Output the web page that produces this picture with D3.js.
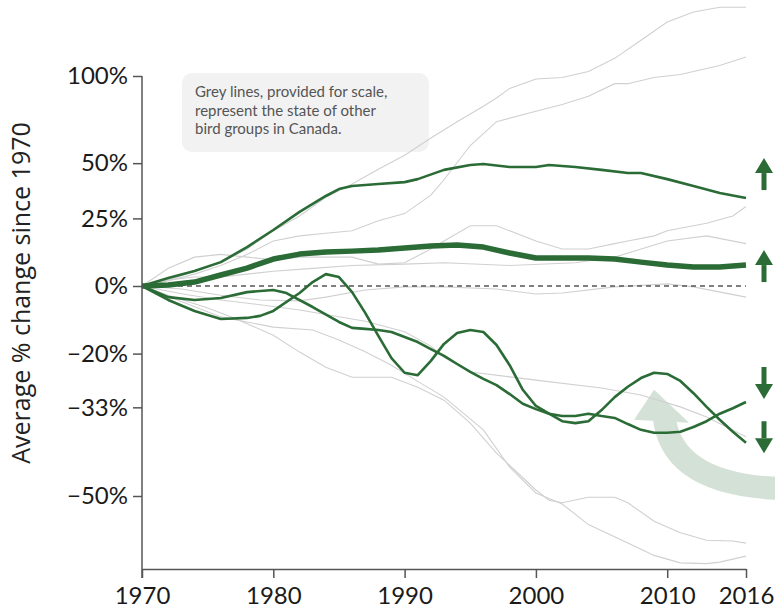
<!DOCTYPE html>
<html>
<head>
<meta charset="utf-8">
<script src="https://cdn.jsdelivr.net/npm/d3@7"></script>
<style>
  body { margin: 0; background: #fff; }
  svg { display: block; font-family: Lato, "Open Sans", sans-serif; }
</style>
</head>
<body>
<div id="chart"></div>
<script>
// Chart size
const width = 775,
    height = 611;

// Plot box (pixels)
const plotLeft = 142,
    plotRight = 746,
    plotTop = 76,
    plotBottom = 569;

// Axis ticks
const xTicks = [1970, 1980, 1990, 2000, 2010, 2016];
const yTickValues = [100, 50, 25, 0, -20, -33, -50];
const yTickLabels = ["100%", "50%", "25%", "0%", "\u221220%", "\u221233%", "\u221250%"];

// Green series: [year, % change since 1970]
const greenTop = [[1970,0],[1972,2.7],[1974,5.1],[1976,8.2],[1978,13.7],[1980,20.3],[1982,27.7],[1984,34.6],[1985,37.7],[1986,39.1],[1988,40],[1990,40.9],[1991,42.3],[1993,46.7],[1995,49.1],[1996,49.6],[1998,48.1],[2000,48.1],[2001,49.1],[2003,48.1],[2005,46.7],[2007,45.2],[2008,45.2],[2010,42.3],[2012,39.1],[2014,35.9],[2016,33.7]];
const greenThick = [[1970,0],[1972,0.3],[1974,1.3],[1976,3.7],[1978,6.1],[1980,9.3],[1982,11.1],[1984,11.9],[1986,12.2],[1988,12.6],[1990,13.4],[1992,14.1],[1994,14.5],[1996,13.7],[1998,11.5],[2000,9.7],[2002,9.7],[2004,9.7],[2006,9.3],[2008,8.2],[2010,7.2],[2012,6.5],[2014,6.5],[2016,7.2]];
const greenSteady = [[1970,0],[1972,-3.6],[1974,-4.5],[1976,-3.9],[1978,-2.0],[1980,-1.3],[1981,-2.3],[1983,-6.7],[1985,-11.2],[1986,-12.9],[1987,-13.2],[1988,-13.5],[1989,-14.1],[1990,-15.5],[1991,-16.9],[1992,-18.8],[1993,-20.6],[1994,-22.7],[1995,-24.7],[1996,-26.4],[1997,-27.9],[1998,-30],[1999,-32.2],[2000,-33.4],[2001,-34.4],[2002,-34.9],[2003,-34.9],[2004,-34.4],[2005,-34.9],[2006,-35.3],[2007,-36.6],[2008,-37.8],[2009,-38.4],[2010,-38.4],[2011,-38.2],[2012,-37.2],[2013,-36],[2014,-34.4],[2015,-33.2],[2016,-31.8]];
const greenWavy = [[1970,0],[1972,-4.5],[1974,-7.9],[1976,-10.3],[1978,-10],[1979,-9.4],[1980,-7.9],[1982,-2.3],[1983,1.3],[1984,4],[1985,3],[1986,-2],[1987,-8.5],[1988,-15.2],[1989,-21.2],[1990,-24.9],[1991,-25.5],[1992,-21.9],[1993,-17.4],[1994,-14.4],[1995,-13.5],[1996,-14.1],[1997,-17.7],[1998,-23],[1999,-29],[2000,-32.7],[2001,-34.4],[2002,-36],[2003,-36.4],[2004,-36],[2005,-33.6],[2006,-30.7],[2007,-28.3],[2008,-26.2],[2009,-24.9],[2010,-25.2],[2011,-26.9],[2012,-29.8],[2013,-32.9],[2014,-35.7],[2015,-38.2],[2016,-40.4]];

// Grey series (other bird groups)
const grey1 = [[1970,0],[1972,2],[1974,5],[1976,8],[1978,13],[1980,20],[1982,26],[1984,34],[1986,40],[1988,47],[1990,54],[1992,63],[1994,72],[1996,81],[1997,86],[1998,92],[2000,98],[2002,99],[2004,103],[2006,112],[2008,125],[2010,139],[2012,147],[2014,151],[2016,151]];
const grey2 = [[1970,0],[1972,1.7],[1974,4],[1976,7],[1978,11],[1980,16],[1982,18],[1984,19],[1986,20],[1988,24],[1990,27],[1992,35],[1993,42],[1995,59],[1997,72],[2000,78],[2002,82],[2004,87],[2006,95],[2007,95],[2009,99],[2011,101],[2013,105],[2014,107],[2016,113]];
const grey3 = [[1970,0],[1972,6],[1974,10],[1976,11],[1978,10],[1980,9],[1982,10],[1984,10],[1986,10],[1988,7.5],[1990,8],[1992,13],[1993,16],[1995,22],[1997,22],[2000,16],[2002,13],[2004,13],[2006,15],[2007,16],[2009,18],[2010,20],[2013,23],[2015,26],[2016,30]];
const grey4 = [[1970,0],[1972,2],[1974,3],[1976,3],[1978,4],[1980,5],[1983,6],[1986,7],[1990,7.5],[1993,8],[1998,7],[2003,8],[2006,10],[2010,16],[2013,18],[2016,15]];
const grey5 = [[1970,0],[1973,-1],[1976,-3],[1979,-4.5],[1982,-4.8],[1984,-3.6],[1987,-1.3],[1990,-0.3],[1993,-0.3],[1997,-1],[2000,-2.6],[2002,-2.3],[2006,-0.3],[2010,0.7],[2012,-0.3],[2016,-3.6]];
const grey6 = [[1970,0],[1973,-2.5],[1976,-4.5],[1979,-6],[1982,-7.6],[1984,-9],[1987,-11],[1990,-14],[1992,-18],[1993,-21],[1995,-24.7],[2000,-26.7],[2005,-28.6],[2008,-30.2],[2011,-32.9],[2013,-35.1],[2016,-39.2]];
const grey7 = [[1970,0],[1972,-3],[1975,-7],[1977,-10],[1980,-15],[1982,-19.6],[1984,-23.5],[1986,-26],[1989,-26],[1991,-28.4],[1993,-31.4],[1995,-36.4],[1997,-42.4],[2000,-49],[2001,-50.7],[2002,-51.1],[2004,-50.2],[2006,-50.2],[2007,-51.1],[2009,-54],[2011,-55.7],[2013,-56.8],[2015,-56.9],[2016,-57.2]];
const grey8 = [[1970,0],[1973,-5],[1976,-9.7],[1980,-12.7],[1983,-13.5],[1985,-16.3],[1987,-19.5],[1989,-23],[1991,-27],[1993,-30.7],[1996,-37.8],[1998,-45],[2000,-49.5],[2002,-51.3],[2004,-54.5],[2007,-57.2],[2009,-58.9],[2011,-59.9],[2013,-60],[2014,-59.8],[2016,-59]];

// Trend arrows at the right: value where each arrow is centred, and direction
const arrowValues = [44.7, 6.8, -27.4, -39.3];
const arrowDirs = ["up", "up", "down", "down"];

// Big pale arrow pointing at the recent peak: tip at [year, %]
const bigArrowTip = [2009, -29];

const noteLines = ["Grey lines, provided for scale,", "represent the state of other", "bird groups in Canada."];

const green = "#2a6b36";

const svg = d3.select("#chart")
    .append("svg")
    .attr("width", width)
    .attr("height", height);

// Scales: y is a log scale of the ratio to 1970
const x = d3.scaleLinear()
    .domain([1970, 2016])
    .range([plotLeft, plotRight]);

const y = d3.scaleLog()
    .domain([0.5, 2])
    .range([496, plotTop]);

const ratio = p => 1 + p / 100;

const line = d3.line()
    .x(d => x(d[0]))
    .y(d => y(ratio(d[1])));

// Big pale arrow (drawn first so everything sits on top)
const tx = x(bigArrowTip[0]), ty = y(ratio(bigArrowTip[1]));
svg.append("path")
    .attr("d", `M${tx + 10},${ty + 26} Q${tx + 17},${ty + 99} ${tx + 140},${ty + 99}`)
    .attr("fill", "none")
    .attr("stroke", "#d4e1d6")
    .attr("stroke-width", 23);
svg.append("path")
    .attr("d", `M${tx},${ty} L${tx + 35},${ty + 33} L${tx - 20},${ty + 30} Z`)
    .attr("fill", "#d4e1d6");

// Annotation box
svg.append("rect")
    .attr("x", 182)
    .attr("y", 73)
    .attr("width", 247)
    .attr("height", 79)
    .attr("rx", 10)
    .attr("fill", "#f2f2f2");

svg.append("g")
    .selectAll("text")
    .data(noteLines)
    .join("text")
    .attr("x", 195)
    .attr("y", (d, i) => 97 + i * 18.5)
    .attr("font-size", "15px")
    .attr("fill", "#555")
    .text(d => d);

// Grey lines
const greys = [grey1, grey2, grey3, grey4, grey5, grey6, grey7, grey8];
svg.append("g")
    .selectAll("path")
    .data(greys)
    .join("path")
    .attr("fill", "none")
    .attr("stroke", "#d0d0d0")
    .attr("stroke-width", 1.1)
    .attr("d", line);

// Dashed zero line
svg.append("line")
    .attr("x1", plotLeft)
    .attr("x2", plotRight)
    .attr("y1", y(1))
    .attr("y2", y(1))
    .attr("stroke", "#555")
    .attr("stroke-width", 1.6)
    .attr("stroke-dasharray", "5,4");

// Green lines
[greenSteady, greenWavy, greenTop].forEach(s => {
    svg.append("path")
        .datum(s)
        .attr("fill", "none")
        .attr("stroke", green)
        .attr("stroke-width", 2.6)
        .attr("stroke-linejoin", "round")
        .attr("d", line);
});
svg.append("path")
    .datum(greenThick)
    .attr("fill", "none")
    .attr("stroke", green)
    .attr("stroke-width", 5.5)
    .attr("stroke-linejoin", "round")
    .attr("d", line);

// Axes
const yAxis = svg.append("g")
    .attr("transform", `translate(${plotLeft},0)`)
    .call(d3.axisLeft(y)
        .tickValues(yTickValues.map(ratio))
        .tickFormat((d, i) => yTickLabels[i])
        .tickSize(9)
        .tickPadding(5));
yAxis.select(".domain").remove();

const xAxis = svg.append("g")
    .attr("transform", `translate(0,${plotBottom})`)
    .call(d3.axisBottom(x)
        .tickValues(xTicks)
        .tickFormat(d3.format("d"))
        .tickSize(9)
        .tickSizeOuter(0)
        .tickPadding(9));

svg.append("line")
    .attr("x1", plotLeft)
    .attr("x2", plotLeft)
    .attr("y1", plotTop)
    .attr("y2", plotBottom + 9)
    .attr("stroke", "#555")
    .attr("stroke-width", 1.5);

svg.selectAll(".tick line, .domain")
    .attr("stroke", "#555")
    .attr("stroke-width", 1.5);
svg.selectAll(".tick text")
    .attr("font-family", "Lato, sans-serif")
    .attr("font-size", "24px")
    .attr("fill", "#1a1a1a");

// Y axis title
svg.append("text")
    .attr("transform", "translate(30,293) rotate(-90)")
    .attr("text-anchor", "middle")
    .attr("font-family", "'Open Sans', sans-serif")
    .attr("font-size", "25px")
    .attr("fill", "#222")
    .text("Average % change since 1970");

// Trend arrows
const arrows = svg.append("g");
arrowValues.forEach((v, i) => {
    const cy = y(ratio(v));
    const dir = arrowDirs[i] === "up" ? -1 : 1;
    const tipY = cy + dir * 16;
    const tailY = cy - dir * 16;
    const baseY = tipY - dir * 15;
    arrows.append("line")
        .attr("x1", 764).attr("x2", 764)
        .attr("y1", tailY).attr("y2", baseY)
        .attr("stroke", green)
        .attr("stroke-width", 5);
    arrows.append("path")
        .attr("d", `M${764},${tipY} L${773},${baseY} L${755},${baseY} Z`)
        .attr("fill", green);
});
</script>
</body>
</html>
